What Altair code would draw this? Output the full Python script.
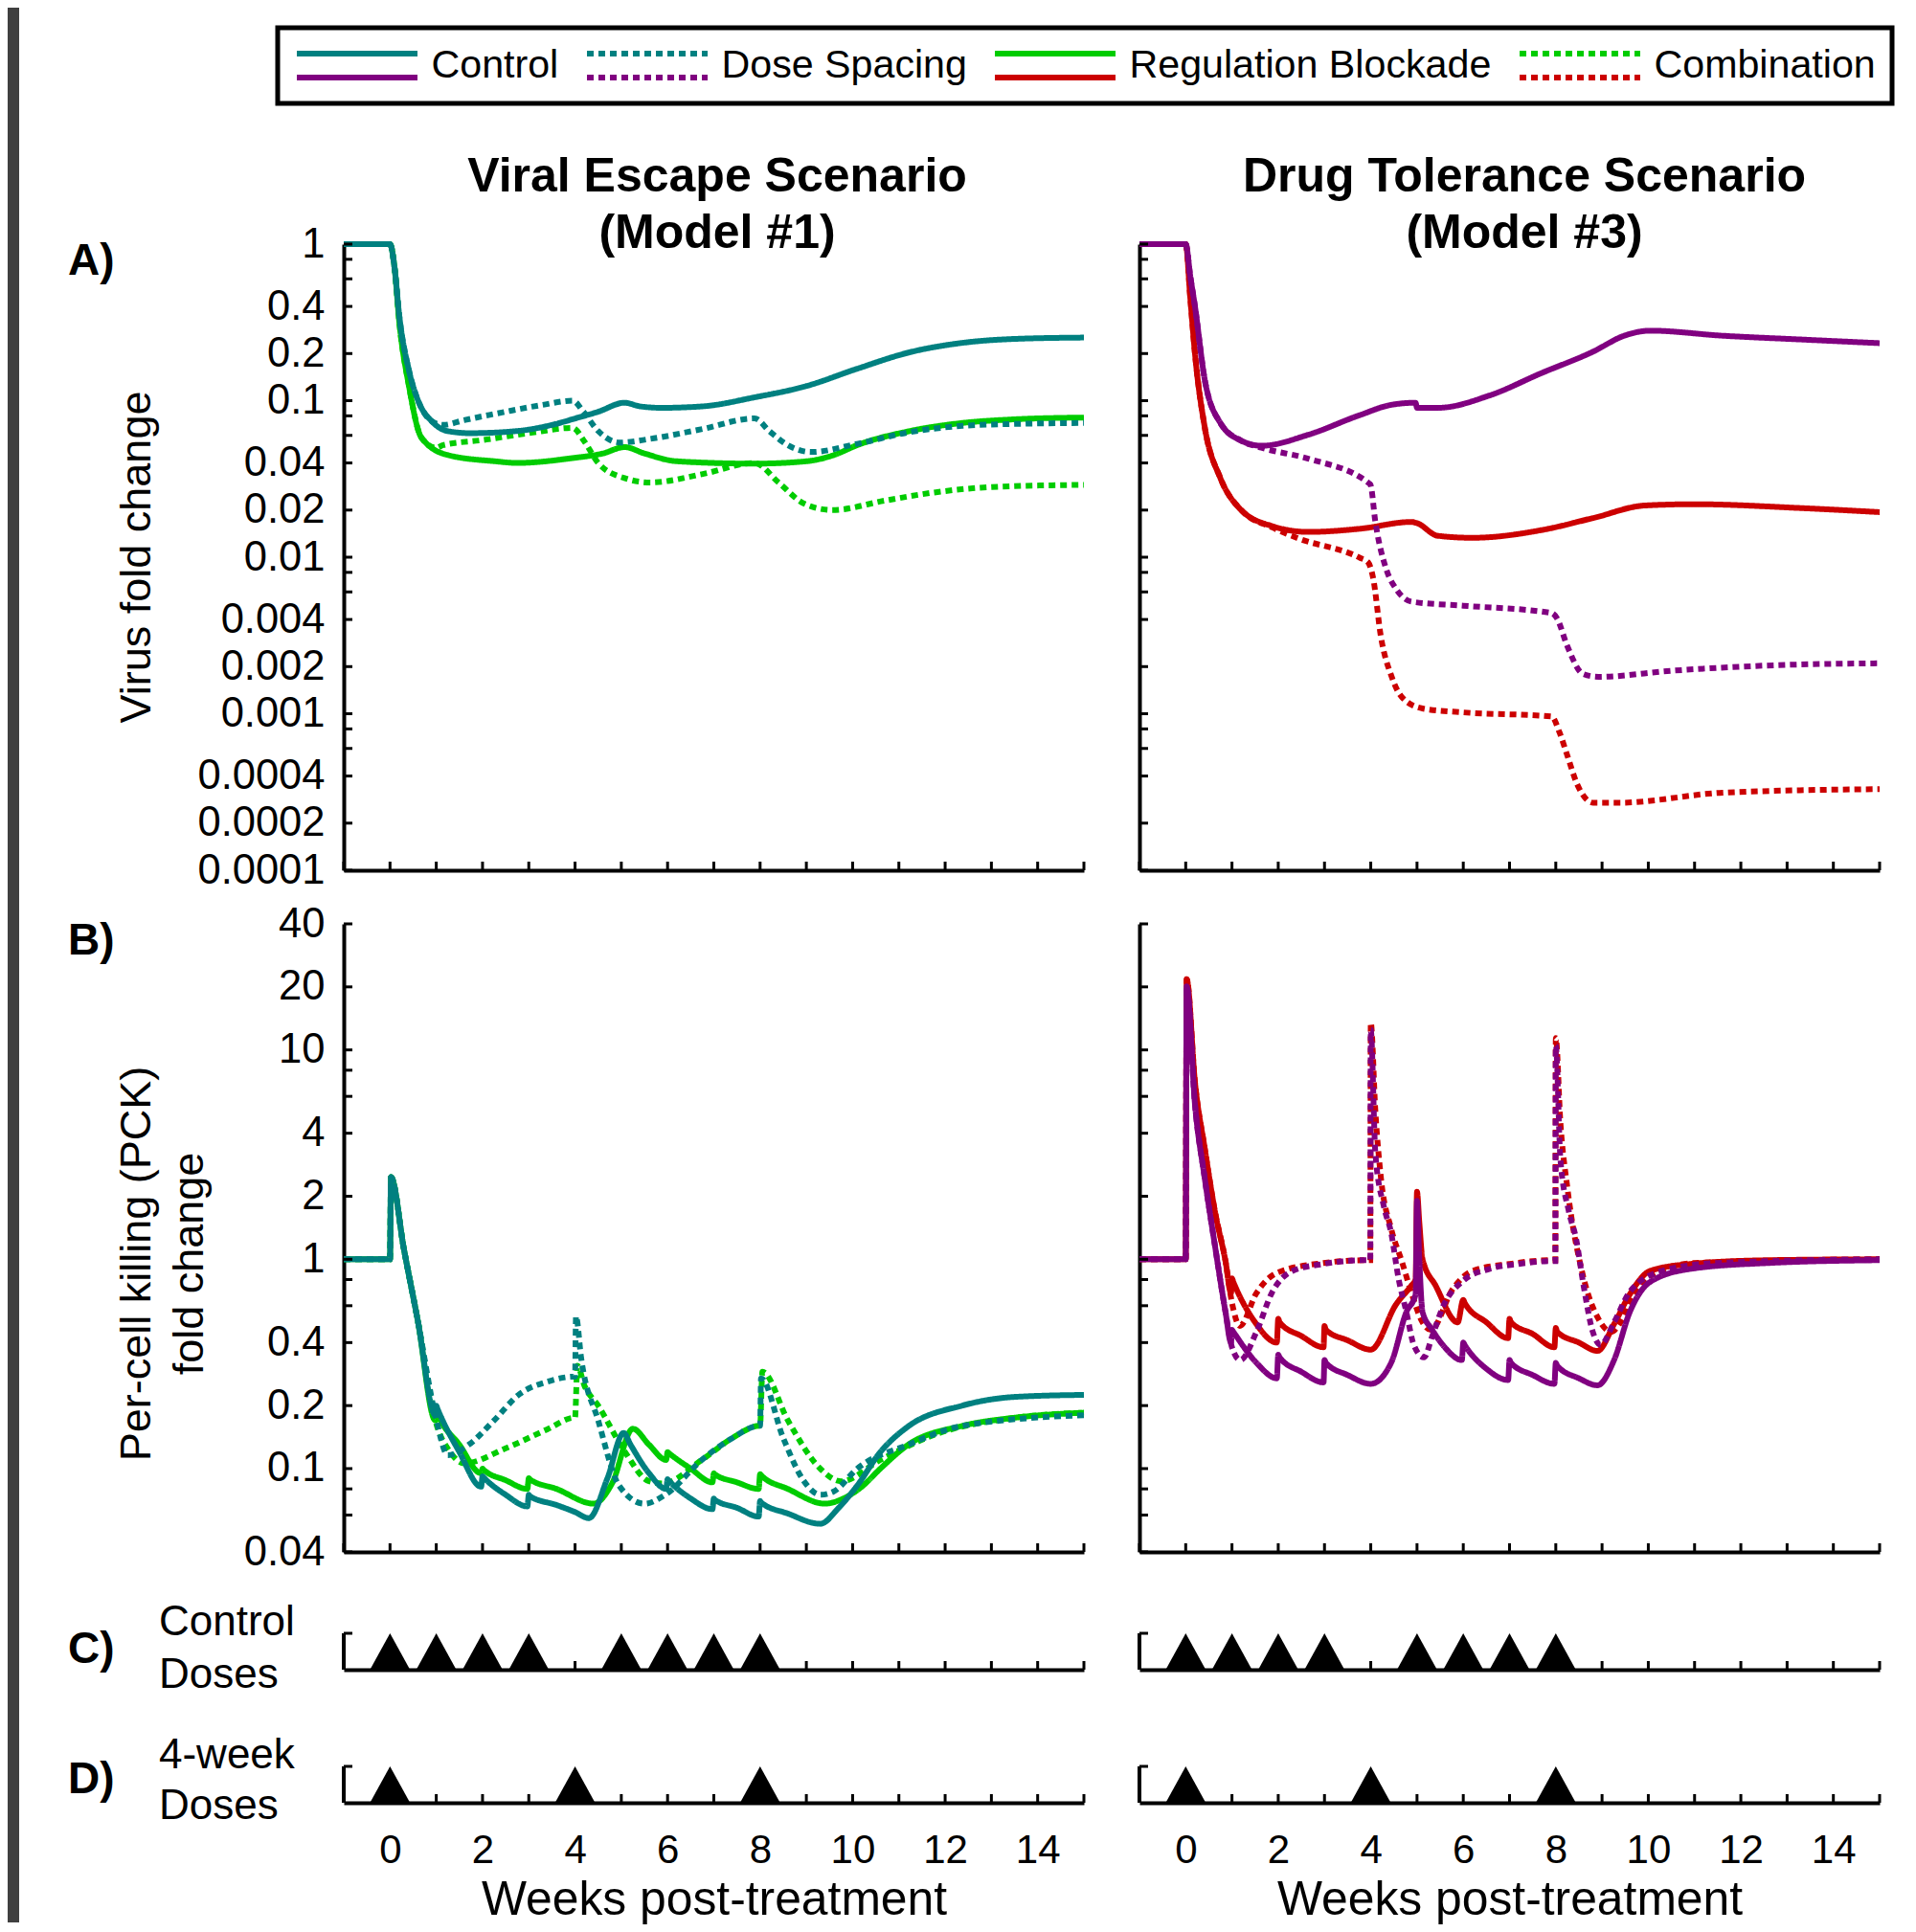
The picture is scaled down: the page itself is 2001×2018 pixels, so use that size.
import altair as alt
import pandas as pd

FONT = "Liberation Sans"
SERIES = ["Control", "Dose Spacing", "Regulation Blockade", "Combination"]
DRAW_ORDER = ["Combination", "Regulation Blockade", "Dose Spacing", "Control"]
COLORS_VE = ["#008080", "#008080", "#00CC00", "#00CC00"]
COLORS_DT = ["#800080", "#800080", "#CC0000", "#CC0000"]
DASHES = [[1, 0], [7, 5], [1, 0], [7, 5]]

WEEK_TICKS = list(range(-1, 16))
WEEK_LABELS = [0, 2, 4, 6, 8, 10, 12, 14]
VIRUS_LABELS = [1, 0.4, 0.2, 0.1, 0.04, 0.02, 0.01, 0.004, 0.002, 0.001, 0.0004, 0.0002, 0.0001]
VIRUS_TICKS = [1, 0.8, 0.6, 0.4, 0.2, 0.1, 0.08, 0.06, 0.04, 0.02, 0.01, 0.008, 0.006, 0.004,
               0.002, 0.001, 0.0008, 0.0006, 0.0004, 0.0002, 0.0001]
PCK_LABELS = [40, 20, 10, 4, 2, 1, 0.4, 0.2, 0.1, 0.04]
PCK_TICKS = [40, 20, 10, 8, 6, 4, 2, 1, 0.8, 0.6, 0.4, 0.2, 0.1, 0.08, 0.06, 0.04]
CONTROL_DOSES = [0, 1, 2, 3, 5, 6, 7, 8]
SPACED_DOSES = [0, 4, 8]

# ---------------- A) Virus fold change, Viral Escape (Model #1) ----------------
ve_a_ctrl_w = [-1, 0, 0.1, 0.2, 0.41, 0.62, 0.9, 1.24, 1.72, 2.75, 3.5, 4.07, 4.5, 5.07, 5.4, 5.86, 6.76, 7.88, 9.0, 10.1, 11.24, 12.37, 13.5, 15]
ve_a_ctrl_v = [1, 1, 0.70, 0.35, 0.156, 0.098, 0.074, 0.064, 0.062, 0.064, 0.070, 0.078, 0.085, 0.097, 0.092, 0.090, 0.092, 0.105, 0.124, 0.16, 0.204, 0.234, 0.248, 0.253]
ve_a_dose_w = [-1, 0, 0.1, 0.2, 0.41, 0.62, 0.9, 1.15, 1.6, 2.5, 3.3, 3.95, 4.18, 4.5, 4.97, 5.63, 6.76, 7.88, 8.2, 8.55, 9.1, 10.1, 11.24, 12.37, 13.5, 15]
ve_a_dose_v = [1, 1, 0.70, 0.35, 0.156, 0.098, 0.074, 0.070, 0.075, 0.085, 0.094, 0.100, 0.085, 0.064, 0.054, 0.057, 0.066, 0.077, 0.064, 0.053, 0.047, 0.053, 0.063, 0.069, 0.071, 0.072]
ve_a_reg_w = [-1, 0, 0.1, 0.2, 0.41, 0.68, 1.24, 2.27, 2.75, 3.95, 4.6, 5.07, 5.5, 6.2, 7.88, 9.0, 9.6, 10.1, 11.24, 12.37, 13.5, 15]
ve_a_reg_v = [1, 1, 0.70, 0.32, 0.124, 0.058, 0.045, 0.041, 0.040, 0.043, 0.046, 0.0505, 0.046, 0.041, 0.0396, 0.041, 0.045, 0.052, 0.064, 0.072, 0.076, 0.078]
ve_a_comb_w = [-1, 0, 0.1, 0.2, 0.41, 0.68, 1.0, 1.15, 2.0, 3.0, 3.95, 4.2, 4.5, 5.07, 5.63, 6.76, 7.88, 8.4, 8.95, 9.56, 10.7, 11.8, 12.95, 15]
ve_a_comb_v = [1, 1, 0.70, 0.32, 0.124, 0.058, 0.050, 0.052, 0.056, 0.062, 0.067, 0.055, 0.040, 0.032, 0.030, 0.034, 0.040, 0.030, 0.022, 0.020, 0.023, 0.026, 0.028, 0.029]

# ---------------- A) Virus fold change, Drug Tolerance (Model #3) ----------------
dt_a_ctrl_w = [-1, 0, 0.1, 0.2, 0.41, 0.75, 1.2, 1.64, 2.65, 3.77, 4.44, 4.97, 5.0, 5.45, 6.57, 7.69, 8.81, 9.48, 10.04, 11.6, 13.29, 15]
dt_a_ctrl_v = [1, 1, 0.62, 0.40, 0.137, 0.072, 0.0555, 0.0515, 0.0606, 0.081, 0.094, 0.097, 0.090, 0.090, 0.108, 0.150, 0.206, 0.26, 0.28, 0.26, 0.246, 0.233]
dt_a_reg_w = [-1, 0, 0.1, 0.2, 0.41, 0.75, 1.2, 1.87, 2.65, 3.77, 4.88, 5.0, 5.45, 6.2, 7.69, 8.81, 9.93, 11.0, 13.29, 15]
dt_a_reg_v = [1, 1, 0.45, 0.20, 0.068, 0.032, 0.020, 0.0158, 0.0145, 0.0152, 0.0168, 0.0165, 0.0137, 0.0133, 0.0149, 0.0178, 0.0214, 0.0218, 0.0206, 0.0194]
dt_a_dose_w = [-1, 0, 0.1, 0.2, 0.41, 0.75, 1.2, 1.64, 2.65, 3.99, 4.1, 4.34, 4.56, 4.88, 6.0, 7.91, 8.02, 8.25, 8.58, 8.92, 10.49, 12.73, 15]
dt_a_dose_v = [1, 1, 0.62, 0.40, 0.137, 0.072, 0.0555, 0.050, 0.0426, 0.0292, 0.0168, 0.0083, 0.0062, 0.0052, 0.0049, 0.0044, 0.0041, 0.0027, 0.0018, 0.00172, 0.00188, 0.00204, 0.0021]
dt_a_comb_w = [-1, 0, 0.1, 0.2, 0.41, 0.75, 1.2, 1.87, 2.4, 3.77, 3.94, 4.05, 4.22, 4.45, 4.67, 5.12, 6.0, 7.91, 8.08, 8.25, 8.47, 8.81, 9.37, 11.6, 15]
dt_a_comb_v = [1, 1, 0.45, 0.20, 0.068, 0.032, 0.020, 0.0155, 0.0133, 0.0099, 0.0093, 0.0074, 0.0031, 0.00173, 0.00128, 0.00108, 0.00102, 0.00096, 0.00076, 0.00054, 0.00035, 0.00027, 0.00027, 0.000313, 0.00033]

# ---------------- B) PCK fold change, Viral Escape (Model #1) ----------------
ve_b_ctrl_w = [-1, 0, 0.02, 0.3, 0.6, 0.98, 1.0, 1.02, 1.5, 1.97, 2.0, 2.02, 2.5, 2.97, 3.0, 3.02, 3.6, 4.0, 4.3, 4.7, 5.05, 5.2, 5.6, 5.97, 6.0, 6.02, 6.5, 6.97, 7.0, 7.02, 7.5, 7.97, 8.0, 8.02, 8.6, 9.3, 9.7, 10.1, 10.6, 11.2, 12.37, 13.5, 15]
ve_b_ctrl_v = [1, 1, 2.47, 1.12, 0.51, 0.18, 0.20, 0.195, 0.12, 0.082, 0.092, 0.091, 0.075, 0.066, 0.075, 0.074, 0.067, 0.062, 0.058, 0.09, 0.148, 0.13, 0.095, 0.08, 0.089, 0.088, 0.072, 0.064, 0.072, 0.071, 0.065, 0.059, 0.07, 0.069, 0.061, 0.0545, 0.065, 0.083, 0.12, 0.159, 0.2, 0.22, 0.225]
ve_b_reg_w = [-1, 0, 0.02, 0.3, 0.6, 0.98, 1.0, 1.02, 1.5, 1.97, 2.0, 2.02, 2.5, 2.97, 3.0, 3.02, 3.6, 4.4, 4.8, 5.25, 5.6, 5.97, 6.0, 6.02, 6.5, 6.97, 7.0, 7.02, 7.5, 7.97, 8.0, 8.02, 8.6, 9.4, 9.8, 10.2, 10.6, 11.2, 12.37, 13.5, 15]
ve_b_reg_v = [1, 1, 2.47, 1.12, 0.51, 0.17, 0.19, 0.185, 0.13, 0.095, 0.10, 0.099, 0.088, 0.08, 0.09, 0.089, 0.08, 0.068, 0.085, 0.155, 0.13, 0.11, 0.12, 0.119, 0.1, 0.086, 0.095, 0.094, 0.086, 0.08, 0.094, 0.093, 0.08, 0.068, 0.072, 0.082, 0.1, 0.13, 0.16, 0.175, 0.185]
ve_b_dose_w = [-1, 0, 0.02, 0.3, 0.6, 0.98, 1.25, 1.7, 2.25, 2.8, 3.4, 3.98, 4.0, 4.02, 4.13, 4.5, 4.95, 5.5, 5.95, 6.74, 7.4, 7.98, 8.0, 8.02, 8.5, 8.95, 9.3, 9.6, 10.1, 11.2, 12.37, 15]
ve_b_dose_v = [1, 1, 2.47, 1.12, 0.51, 0.18, 0.116, 0.13, 0.17, 0.227, 0.26, 0.275, 0.275, 0.534, 0.34, 0.17, 0.083, 0.068, 0.075, 0.11, 0.14, 0.16, 0.16, 0.27, 0.14, 0.087, 0.075, 0.078, 0.1, 0.13, 0.16, 0.18]
ve_b_comb_w = [-1, 0, 0.02, 0.3, 0.6, 0.98, 1.3, 1.6, 2.5, 3.4, 3.98, 4.0, 4.05, 4.2, 4.5, 5.07, 5.6, 5.9, 6.74, 7.4, 7.98, 8.0, 8.05, 8.6, 9.3, 9.75, 10.6, 11.8, 13.5, 15]
ve_b_comb_v = [1, 1, 2.47, 1.12, 0.51, 0.17, 0.12, 0.106, 0.125, 0.154, 0.175, 0.175, 0.31, 0.25, 0.2, 0.121, 0.087, 0.085, 0.11, 0.14, 0.16, 0.16, 0.29, 0.17, 0.1, 0.087, 0.11, 0.146, 0.175, 0.185]

# ---------------- B) PCK fold change, Drug Tolerance (Model #3) ----------------
dt_b_ctrl_w = [-1, 0, 0.02, 0.2, 0.41, 0.63, 0.86, 0.98, 1.0, 1.03, 1.53, 1.97, 2.0, 2.03, 2.5, 2.98, 3.0, 3.03, 3.5, 4.0, 4.44, 4.77, 4.97, 5.0, 5.05, 5.12, 5.33, 5.6, 5.97, 6.0, 6.03, 6.5, 6.97, 7.0, 7.03, 7.5, 7.97, 8.0, 8.03, 8.5, 8.9, 9.26, 9.6, 10.04, 10.92, 12.6, 15]
dt_b_ctrl_v = [1, 1, 20.1, 5.5, 2.45, 1.17, 0.56, 0.40, 0.46, 0.45, 0.32, 0.27, 0.35, 0.34, 0.29, 0.258, 0.33, 0.32, 0.28, 0.254, 0.32, 0.56, 0.68, 1.9, 1.0, 0.56, 0.46, 0.38, 0.33, 0.40, 0.39, 0.3, 0.265, 0.33, 0.32, 0.28, 0.254, 0.32, 0.31, 0.27, 0.25, 0.33, 0.56, 0.78, 0.9, 0.96, 0.99]
dt_b_reg_w = [-1, 0, 0.02, 0.2, 0.41, 0.63, 0.86, 0.98, 1.0, 1.03, 1.5, 1.97, 2.0, 2.03, 2.5, 2.98, 3.0, 3.03, 3.5, 4.0, 4.55, 4.88, 4.97, 5.0, 5.05, 5.12, 5.4, 5.88, 6.0, 6.03, 6.5, 6.97, 7.0, 7.03, 7.5, 7.97, 8.0, 8.03, 8.5, 8.9, 9.26, 9.6, 10.04, 10.92, 12.6, 15]
dt_b_reg_v = [1, 1, 21.8, 7.0, 3.4, 1.7, 0.98, 0.69, 0.81, 0.78, 0.50, 0.40, 0.52, 0.50, 0.43, 0.38, 0.48, 0.46, 0.41, 0.37, 0.61, 0.75, 0.8, 2.1, 1.5, 1.0, 0.75, 0.5, 0.64, 0.62, 0.5, 0.42, 0.52, 0.5, 0.44, 0.38, 0.47, 0.45, 0.4, 0.365, 0.49, 0.68, 0.88, 0.95, 0.99, 1.0]
dt_b_dose_w = [-1, 0, 0.02, 0.2, 0.41, 0.63, 0.86, 1.0, 1.18, 1.53, 1.86, 2.31, 2.98, 3.9, 3.99, 4.0, 4.1, 4.28, 4.44, 4.6, 4.77, 4.93, 5.15, 5.33, 5.57, 6.0, 6.57, 7.2, 7.91, 7.99, 8.0, 8.1, 8.28, 8.44, 8.6, 8.8, 8.97, 9.26, 9.6, 10.3, 11.5, 15]
dt_b_dose_v = [1, 1, 20.1, 5.5, 2.45, 1.17, 0.56, 0.38, 0.33, 0.45, 0.69, 0.88, 0.95, 0.99, 0.99, 12.5, 3.2, 1.8, 1.34, 0.81, 0.56, 0.39, 0.34, 0.43, 0.6, 0.79, 0.9, 0.95, 0.98, 0.98, 10.5, 3.0, 1.7, 1.25, 0.75, 0.45, 0.39, 0.5, 0.7, 0.88, 0.96, 1.0]
dt_b_comb_w = [-1, 0, 0.02, 0.2, 0.41, 0.63, 0.86, 1.0, 1.17, 1.53, 1.97, 2.98, 3.9, 3.99, 4.0, 4.1, 4.22, 4.44, 4.67, 4.88, 5.12, 5.3, 5.77, 6.2, 7.0, 7.91, 7.99, 8.0, 8.1, 8.25, 8.58, 8.92, 9.2, 9.4, 9.7, 10.1, 11.0, 15]
dt_b_comb_v = [1, 1, 21.8, 7.0, 3.4, 1.7, 0.98, 0.62, 0.48, 0.69, 0.86, 0.96, 0.99, 0.99, 13.5, 5.1, 2.45, 1.4, 0.98, 0.69, 0.5, 0.46, 0.72, 0.88, 0.95, 0.99, 0.99, 11.4, 4.5, 2.2, 0.85, 0.52, 0.45, 0.5, 0.68, 0.85, 0.96, 1.0]

# ---------------- layout (pixels) ----------------
W = 773
H_A, H_B, H_C, H_D = 654, 656, 67, 83
COL_GAP, ROW_GAP = 58, 56
TICK = 9
LW = 6

xscale = alt.Scale(domain=[-1, 15], nice=False, zero=False)
virus_scale = alt.Scale(type="log", domain=[0.0001, 1], nice=False)
pck_scale = alt.Scale(type="log", domain=[0.04, 40], nice=False)


def bare_axis():
    return alt.Axis(labels=False, ticks=False, tickSize=0, title=None, domainWidth=4,
                    domainColor="black", grid=False)


def label_axis(values):
    return alt.Axis(values=values, format="~g", ticks=False, tickSize=0, labels=True,
                    labelFontSize=43.5, labelPadding=20, labelOverlap=False, labelFlush=False,
                    labelColor="black", labelFont=FONT, title=None, domainWidth=4,
                    domainColor="black", grid=False)


def week_axis():
    return alt.Axis(values=WEEK_LABELS, ticks=False, tickSize=0, labels=True, labelFontSize=42,
                    labelPadding=29, labelFlush=False, labelOverlap=False, labelColor="black",
                    labelFont=FONT, title=None, domainWidth=4, domainColor="black", grid=False)


def panel_frame(pairs):
    rows = []
    for s in DRAW_ORDER:
        ws, vs = pairs[s]
        for i, (w, v) in enumerate(zip(ws, vs)):
            rows.append({"s": s, "w": w, "v": v, "i": i})
    return pd.DataFrame(rows)


def one_row():
    return alt.Data(values=[{"_": 0}])


def text(t, x, y, size=44, weight="normal", angle=0, align="left"):
    kw = dict(text=t, font=FONT, fontSize=size, fontWeight=weight, angle=angle,
              align=align, baseline="alphabetic", color="black")
    if isinstance(t, list):
        kw["lineHeight"] = 59
    return alt.Chart(one_row()).mark_text(**kw).encode(x=alt.value(x), y=alt.value(y))


def legend(top, x):
    kw = dict(
        orient="none", legendX=x, legendY=-226, direction="horizontal", columns=4,
        title=None, symbolType="M-1,-0.2H1" if top else "M-1,0.2H1",
        symbolSize=126 * 126, symbolStrokeWidth=6, labelFont=FONT, labelFontSize=41.2,
        labelColor="black", labelLimit=2000, labelOffset=11.5, columnPadding=26, padding=17,
        clipHeight=45,
    )
    if top:
        kw["strokeColor"] = "black"
    else:
        kw["labelOpacity"] = 0
    return alt.Legend(**kw)


def curves(df, yscale, colors, yaxis, xaxis, leg):
    return alt.Chart(df).mark_line(strokeWidth=LW, interpolate="monotone").encode(
        x=alt.X("w:Q", scale=xscale, axis=xaxis),
        y=alt.Y("v:Q", scale=yscale, axis=yaxis),
        color=alt.Color("s:N", scale=alt.Scale(domain=SERIES, range=colors), legend=leg),
        strokeDash=alt.StrokeDash("s:N", scale=alt.Scale(domain=SERIES, range=DASHES), legend=leg),
        order=alt.Order("i:Q"),
    )


def y_ticks(ticks, yscale, yaxis):
    return alt.Chart(pd.DataFrame({"t": ticks})).mark_rule(color="black", strokeWidth=3).encode(
        y=alt.Y("t:Q", scale=yscale, axis=yaxis), x=alt.value(0), x2=alt.value(TICK))


def x_ticks(h, xaxis):
    return alt.Chart(pd.DataFrame({"k": WEEK_TICKS})).mark_rule(color="black", strokeWidth=3).encode(
        x=alt.X("k:Q", scale=xscale, axis=xaxis), y=alt.value(h - TICK), y2=alt.value(h))


ve_a = panel_frame({"Control": (ve_a_ctrl_w, ve_a_ctrl_v), "Dose Spacing": (ve_a_dose_w, ve_a_dose_v),
                    "Regulation Blockade": (ve_a_reg_w, ve_a_reg_v), "Combination": (ve_a_comb_w, ve_a_comb_v)})
dt_a = panel_frame({"Control": (dt_a_ctrl_w, dt_a_ctrl_v), "Dose Spacing": (dt_a_dose_w, dt_a_dose_v),
                    "Regulation Blockade": (dt_a_reg_w, dt_a_reg_v), "Combination": (dt_a_comb_w, dt_a_comb_v)})
ve_b = panel_frame({"Control": (ve_b_ctrl_w, ve_b_ctrl_v), "Dose Spacing": (ve_b_dose_w, ve_b_dose_v),
                    "Regulation Blockade": (ve_b_reg_w, ve_b_reg_v), "Combination": (ve_b_comb_w, ve_b_comb_v)})
dt_b = panel_frame({"Control": (dt_b_ctrl_w, dt_b_ctrl_v), "Dose Spacing": (dt_b_dose_w, dt_b_dose_v),
                    "Regulation Blockade": (dt_b_reg_w, dt_b_reg_v), "Combination": (dt_b_comb_w, dt_b_comb_v)})

strip = alt.Chart(one_row()).mark_rect(color="#404040").encode(
    x=alt.value(-351), x2=alt.value(-339), y=alt.value(-247), y2=alt.value(1753))


def value_panel(df, yscale, labels, ticks, colors, h, leg, extra):
    yaxis = label_axis(labels) if labels else bare_axis()
    xaxis = bare_axis()
    return alt.layer(
        curves(df, yscale, colors, yaxis, xaxis, leg),
        y_ticks(ticks, yscale, yaxis),
        x_ticks(h, xaxis),
        *extra,
    ).properties(width=W, height=h)


a_left = value_panel(ve_a, virus_scale, VIRUS_LABELS, VIRUS_TICKS, COLORS_VE, H_A, legend(True, -69), [
    strip,
    text(["Viral Escape Scenario", "(Model #1)"], 390, -55.5, size=50, weight="bold", align="center"),
    text("A)", -288, 32, size=46, weight="bold"),
    text("Virus fold change", -202, 327, size=45, angle=270, align="center"),
])
a_right = value_panel(dt_a, virus_scale, None, VIRUS_TICKS, COLORS_DT, H_A, legend(False, -69 - W - COL_GAP), [
    text(["Drug Tolerance Scenario", "(Model #3)"], 402, -55.5, size=50, weight="bold", align="center"),
])
b_left = value_panel(ve_b, pck_scale, PCK_LABELS, PCK_TICKS, COLORS_VE, H_B, None, [
    text("B)", -288, 32, size=46, weight="bold"),
    text("Per-cell killing (PCK)", -202, 355, size=45, angle=270, align="center"),
    text("fold change", -147, 355, size=45, angle=270, align="center"),
])
b_right = value_panel(dt_b, pck_scale, None, PCK_TICKS, COLORS_DT, H_B, None, [])


def dose_panel(doses, h, bottom, extra):
    xaxis = week_axis() if bottom else bare_axis()
    tri = alt.Chart(pd.DataFrame({"d": doses})).mark_point(
        shape="M0,-2L1.1,0L-1.1,0Z", size=1444, filled=True, color="black", opacity=1, strokeWidth=0
    ).encode(x=alt.X("d:Q", scale=xscale, axis=xaxis), y=alt.value(h))
    bracket_v = alt.Chart(one_row()).mark_rule(color="black", strokeWidth=4).encode(
        x=alt.value(0), y=alt.value(h - 38), y2=alt.value(h))
    bracket_t = alt.Chart(one_row()).mark_rule(color="black", strokeWidth=3).encode(
        x=alt.value(0), x2=alt.value(TICK), y=alt.value(h - 38))
    return alt.layer(x_ticks(h, xaxis), tri, bracket_v, bracket_t, *extra).properties(width=W, height=h)


c_left = dose_panel(CONTROL_DOSES, H_C, False, [
    text("C)", -288, 60, size=46, weight="bold"), text("Control", -193, 31), text("Doses", -193, 86)])
c_right = dose_panel(CONTROL_DOSES, H_C, False, [])
d_left = dose_panel(SPACED_DOSES, H_D, True, [
    text("D)", -288, 73, size=46, weight="bold"), text("4-week", -193, 47), text("Doses", -193, 100),
    text("Weeks post-treatment", 387, 200, size=49.8, align="center")])
d_right = dose_panel(SPACED_DOSES, H_D, True, [
    text("Weeks post-treatment", 387, 200, size=49.8, align="center")])

chart = alt.concat(
    a_left, a_right, b_left, b_right, c_left, c_right, d_left, d_right,
    columns=2, spacing={"row": ROW_GAP, "column": COL_GAP}, bounds="flush",
).resolve_scale(
    x="independent", y="independent", color="independent", strokeDash="independent"
).properties(
    padding=0, background="white"
).configure_view(
    stroke=None
).configure_axis(
    domainColor="black", labelColor="black", titleColor="black", labelFont=FONT, titleFont=FONT,
    grid=False,
).configure_legend(
    strokeWidth=5
)

chart.save("out.html", embed_options={"renderer": "svg", "actions": False})
